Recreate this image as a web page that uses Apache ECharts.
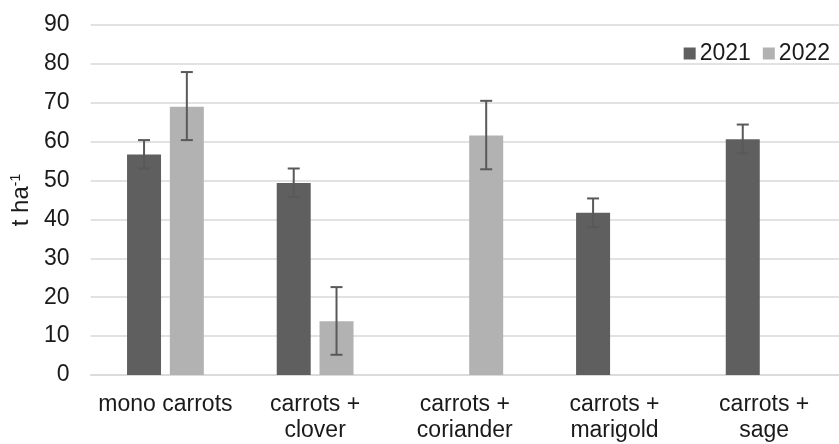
<!DOCTYPE html>
<html>
<head>
<meta charset="utf-8">
<title>Yield</title>
<script src="https://cdn.jsdelivr.net/npm/echarts@6/dist/echarts.min.js"></script>
<style>
  html, body { margin: 0; padding: 0; background: #fff; }
  #main { width: 839px; height: 444px; }
</style>
</head>
<body>
<div id="main"></div>
<script>
// data (t ha-1)
var categories = ['mono carrots', 'carrots +\nclover', 'carrots +\ncoriander', 'carrots +\nmarigold', 'carrots +\nsage'];
var y2021 = [56.7, 49.4, null, 41.7, 60.6];
var y2022 = [69.0, 13.8, 61.6, null, null];
// error bar ends
var lo2021 = [53.1, 45.8, null, 38.0, 57.0];
var hi2021 = [60.4, 53.1, null, 45.4, 64.4];
var lo2022 = [60.4, 5.2, 52.9, null, null];
var hi2022 = [77.9, 22.6, 70.5, null, null];

var barW = 34, gap = 8.8;
var shift = (barW + gap) / 2;

function errData(lo, hi) {
  var out = [];
  for (var i = 0; i < lo.length; i++) {
    if (lo[i] != null) out.push([i, lo[i], hi[i]]);
  }
  return out;
}

function errRender(dx) {
  return function (params, api) {
    var a = api.coord([api.value(0), api.value(1)]);
    var b = api.coord([api.value(0), api.value(2)]);
    var x = a[0] + dx, cap = 6;
    var st = { stroke: '#595959', lineWidth: 2 };
    return {
      type: 'group',
      children: [
        { type: 'line', shape: { x1: x, y1: a[1], x2: x, y2: b[1] }, style: st },
        { type: 'line', shape: { x1: x - cap, y1: a[1], x2: x + cap, y2: a[1] }, style: st },
        { type: 'line', shape: { x1: x - cap, y1: b[1], x2: x + cap, y2: b[1] }, style: st }
      ]
    };
  };
}

var myChart = echarts.init(document.getElementById('main'));
var font = 'Liberation Sans, Arial, sans-serif';
var option = {
  animation: false,
  textStyle: { fontFamily: font },
  grid: { left: 90.6, top: 25, width: 760, bottom: 68, containLabel: false },
  legend: {
    data: ['2021', '2022'],
    right: 4, top: 37,
    itemWidth: 12, itemHeight: 12, itemGap: 12,
    icon: 'rect',
    textStyle: { fontSize: 23, color: '#1a1a1a', fontFamily: font, padding: [0, 0, 0, -1] }
  },
  xAxis: {
    type: 'category',
    data: categories,
    axisTick: { show: false },
    axisLine: { lineStyle: { color: '#d9d9d9', width: 1.5 } },
    axisLabel: { fontSize: 23, color: '#1a1a1a', lineHeight: 26, margin: 17, interval: 0 }
  },
  yAxis: {
    type: 'value',
    min: 0, max: 90, interval: 10,
    name: '{a|t ha}{b|-1}',
    nameLocation: 'middle',
    nameGap: 57,
    nameTextStyle: {
      rich: {
        a: { fontSize: 24, color: '#1a1a1a', fontFamily: font },
        b: { fontSize: 14, color: '#1a1a1a', fontFamily: font, verticalAlign: 'top' }
      }
    },
    axisLabel: { fontSize: 23, color: '#1a1a1a', margin: 21 },
    splitLine: { lineStyle: { color: '#d9d9d9', width: 1.5 } }
  },
  series: [
    { name: '2021', type: 'bar', data: y2021, barWidth: barW, barGap: (gap / barW * 100) + '%',
      itemStyle: { color: '#5f5f5f' } },
    { name: '2022', type: 'bar', data: y2022, barWidth: barW,
      itemStyle: { color: '#b2b2b2' } },
    { type: 'custom', renderItem: errRender(-shift), data: errData(lo2021, hi2021), z: 5 },
    { type: 'custom', renderItem: errRender(shift), data: errData(lo2022, hi2022), z: 5 }
  ]
};
myChart.setOption(option);
</script>
</body>
</html>
